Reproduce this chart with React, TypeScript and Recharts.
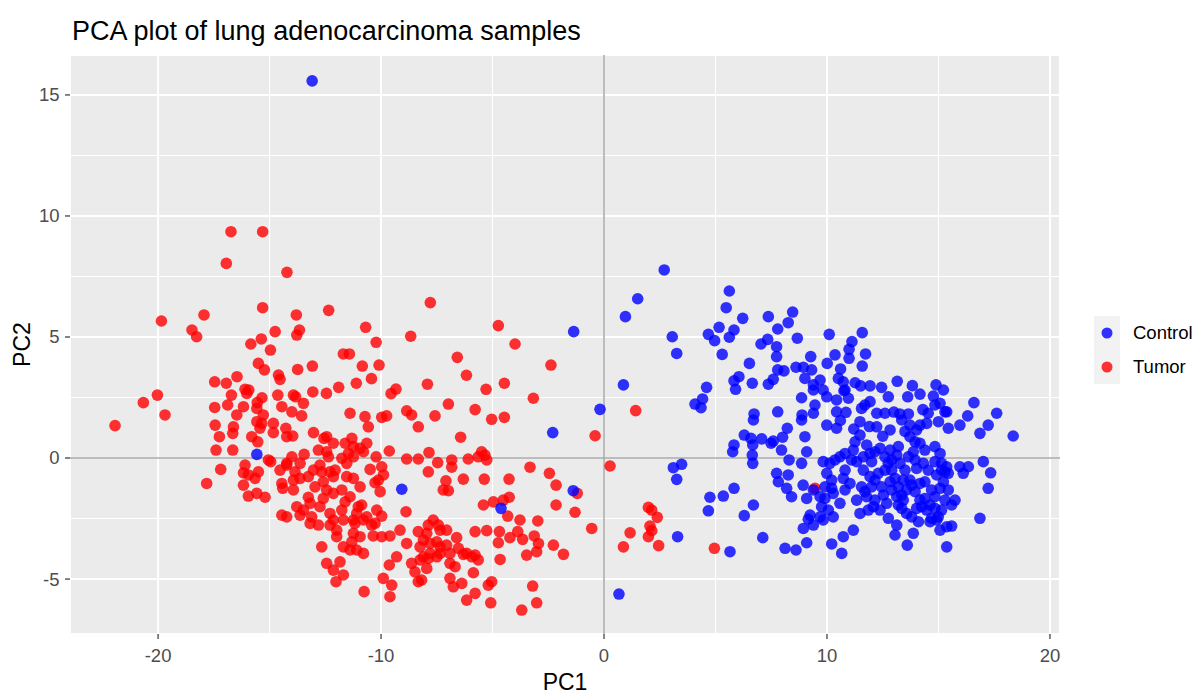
import React from "react";
import { ScatterChart, Scatter, XAxis, YAxis, CartesianGrid, ReferenceLine } from "recharts";

// PC1 / PC2 scores
const controlPoints: [number, number][] = [
  [-13.09, 15.58], [-15.57, 0.15], [-9.07, -1.29], [-2.3, 1.05], [-1.38, -1.35], [-4.62, -2.08], [-1.36, 5.22], [0.67, -5.62],
  [3.11, -0.4], [3.48, -0.26], [3.26, -0.88], [3.3, -3.25], [4.75, -1.62], [4.68, -2.18], [5.35, -1.57], [5.83, -1.25],
  [6.7, -1.94], [6.29, -2.38], [7.12, -3.29], [5.65, -3.87], [5.83, 0.54], [5.77, 0.26], [6.29, 0.95], [6.59, 0.81],
  [6.67, 0.54], [6.65, 0.12], [6.67, -0.22], [7.07, 0.79], [7.49, 0.61], [7.59, 0.7], [8.01, 0.86], [8.22, 1.23],
  [7.96, 0.33], [8.3, -0.08], [8.86, -0.22], [9.01, 0.88], [9.09, 0.26], [8.86, 1.57], [6.7, 1.57], [7.74, -0.63],
  [7.82, -0.98], [8.26, -0.7], [8.19, -1.25], [8.41, -1.6], [8.93, -1.12], [9.09, -1.67], [9.69, -1.6], [9.39, -1.32],
  [9.24, -2.36], [9.16, -2.53], [9.39, -2.77], [8.94, -2.91], [9.09, -3.5], [8.12, -3.73], [8.61, -3.8], [9.69, -2.43],
  [2.7, 7.77], [1.51, 6.58], [0.96, 5.84], [3.06, 5.01], [3.26, 4.32], [0.87, 3.02], [-0.18, 2.01], [4.6, 2.92],
  [4.08, 2.23], [4.42, 2.44], [4.35, 2.08], [5.62, 6.9], [5.48, 6.21], [6.22, 5.77], [5.16, 5.4], [4.68, 5.11],
  [4.96, 4.85], [5.83, 5.29], [5.62, 4.99], [5.3, 4.28], [7.37, 5.84], [7.79, 5.33], [8.26, 5.59], [8.46, 6.03],
  [8.67, 4.95], [7.34, 4.9], [7.04, 4.71], [7.74, 4.6], [7.74, 4.19], [6.52, 3.91], [7.79, 3.64], [8.07, 3.6],
  [7.59, 3.25], [7.37, 3.05], [6.65, 3.09], [5.83, 3.19], [6.05, 3.36], [5.9, 2.84], [8.61, 3.75], [8.94, 3.75],
  [9.27, 4.19], [9.31, 3.64], [9.01, 3.29], [9.39, 3.02], [8.86, 2.49], [9.39, 2.81], [9.46, 2.19], [6.73, 1.82],
  [7.79, 1.91], [8.88, 1.78], [9.39, 1.85], [10.1, 5.11], [11.58, 5.18], [11.12, 4.81], [10.99, 4.49], [10.99, 4.12],
  [11.73, 4.3], [11.58, 3.8], [10.36, 4.26], [10.01, 3.91], [10.61, 3.68], [9.69, 3.22], [10.51, 3.29], [10.73, 3.15],
  [10.76, 2.78], [11.26, 3.11], [11.51, 2.98], [11.93, 2.98], [12.45, 2.92], [13.15, 3.17], [12.75, 2.53], [13.83, 2.99],
  [13.62, 2.53], [14.17, 2.64], [14.89, 3.02], [15.22, 2.81], [14.77, 2.56], [15.07, 2.26], [15.29, 1.91], [16.59, 2.29],
  [17.61, 1.85], [16.31, 1.74], [9.83, 2.81], [9.99, 2.53], [10.43, 2.4], [10.96, 2.47], [10.81, 2.81], [11.7, 2.19],
  [11.93, 2.33], [11.55, 2.05], [10.43, 1.91], [10.85, 1.89], [12.23, 1.85], [12.6, 1.85], [13.27, 1.82], [13.65, 1.82],
  [14.54, 1.85], [14.84, 2.19], [15.37, 1.91], [9.99, 1.36], [10.43, 1.23], [11.48, 1.5], [12.23, 1.29], [12.83, 1.16],
  [13.35, 1.57], [13.72, 1.36], [14.02, 1.16], [14.17, 1.36], [14.47, 1.43], [15.44, 1.23], [15.96, 1.36], [16.86, 1.02],
  [17.23, 1.36], [18.35, 0.91], [11.26, 0.67], [11.48, 0.95], [11.78, 0.54], [11.18, 0.33], [10.81, 0.19], [12.38, 0.4],
  [12.83, 0.33], [13.2, 0.47], [13.72, 0.88], [13.95, 0.67], [14.17, 0.61], [14.39, 0.33], [14.84, 0.47], [15.07, 0.19],
  [9.83, -0.15], [10.13, -0.22], [10.36, -0.08], [10.81, -0.5], [11.33, -0.15], [11.63, 0.05], [12.0, -0.15], [12.6, 0.05],
  [12.75, -0.22], [13.13, 0.12], [12.9, -0.5], [13.5, -0.5], [13.95, -0.08], [14.02, -0.43], [14.84, -0.15], [15.14, -0.22],
  [15.29, -0.57], [15.44, -0.63], [15.96, -0.36], [16.34, -0.36], [16.11, -0.63], [17.01, -0.15], [17.34, -0.61], [17.23, -1.25],
  [9.91, -1.19], [10.21, -1.25], [10.73, -0.84], [10.81, -1.32], [10.58, -1.87], [11.33, -1.74], [11.7, -1.39], [12.0, -1.19],
  [12.15, -0.91], [12.45, -1.19], [12.53, -1.53], [12.83, -0.98], [13.2, -1.19], [13.35, -1.53], [13.57, -1.32], [13.72, -0.91],
  [13.95, -1.39], [14.17, -1.05], [14.39, -0.98], [14.69, -1.32], [14.84, -1.6], [15.07, -1.25], [15.22, -0.98], [15.44, -1.32],
  [15.74, -1.74], [15.59, -1.94], [15.29, -1.74], [9.83, -2.56], [10.28, -2.43], [10.06, -2.15], [11.48, -2.29], [11.85, -2.15],
  [12.08, -2.01], [12.75, -2.49], [13.13, -2.77], [13.35, -2.08], [13.57, -2.29], [13.8, -2.43], [14.02, -2.08], [14.1, -2.63],
  [14.62, -2.63], [14.92, -2.56], [15.07, -2.98], [15.37, -2.84], [15.59, -2.81], [16.86, -2.49], [11.18, -2.98], [10.73, -3.25],
  [13.87, -3.11], [13.05, -3.18], [10.21, -3.55], [10.66, -3.94], [13.6, -3.6], [15.37, -3.67], [9.91, -1.67], [10.28, -1.46],
  [9.76, -2.01], [12.68, -1.87], [13.2, -1.94], [11.63, -0.5], [12.3, -0.63], [11.93, -0.77], [13.42, -0.91], [13.05, -0.84],
  [14.39, -1.67], [14.62, -1.94], [14.84, -2.08],
  [11.1, -0.08], [11.03, -1.05], [11.55, -1.19], [11.78, -1.6], [12.15, -1.74], [12.38, -2.15], [12.9, -1.32], [13.13, -1.6],
  [13.42, -1.74], [13.8, -1.12], [14.17, -1.74], [14.25, -2.01], [14.47, -2.15], [14.69, -2.49], [14.99, -2.43], [15.14, -2.15],
  [9.99, -0.63], [10.21, -0.91], [10.58, 0.05], [11.93, 0.19], [12.15, 0.26], [12.6, -0.5], [12.9, -0.08], [13.27, -0.22],
  [13.65, 0.05], [13.87, 0.26], [14.32, -0.22], [14.54, -0.5], [14.92, -0.7], [15.14, -0.5], [15.37, -0.36],
  [10.6, 1.55], [11.2, 1.2], [12.5, 0.9], [13.0, 1.9], [14.3, 2.0], [11.9, 1.3], [13.5, 1.1], [15.0, 1.5],
];

const tumorPoints: [number, number][] = [
  [-16.73, 9.35], [-15.31, 9.35], [-16.94, 8.04], [-14.22, 7.67], [-15.31, 6.21], [-12.35, 6.1], [-17.94, 5.91], [-19.85, 5.66],
  [-13.8, 5.91], [-18.48, 5.29], [-18.27, 5.01], [-14.75, 5.22], [-13.66, 5.29], [-13.78, 5.08], [-15.37, 4.92], [-15.84, 4.71],
  [-14.96, 4.46], [-15.5, 3.91], [-15.23, 3.64], [-13.74, 3.66], [-13.08, 3.8], [-14.6, 3.43], [-14.53, 3.25], [-17.46, 3.15],
  [-16.94, 3.09], [-16.46, 3.36], [-16.1, 2.84], [-15.93, 2.81], [-16.02, 2.67], [-16.71, 2.6], [-20.03, 2.6], [-20.66, 2.29],
  [-15.34, 2.49], [-15.55, 2.29], [-14.63, 2.6], [-13.93, 2.6], [-13.83, 2.53], [-13.06, 2.73], [-12.45, 2.67], [-17.46, 2.09],
  [-16.88, 2.19], [-16.17, 2.12], [-15.57, 2.05], [-14.45, 2.12], [-13.48, 2.26], [-21.93, 1.34], [-19.69, 1.78],
  [-7.79, 6.42], [-10.69, 5.4], [-4.74, 5.47], [-8.67, 5.03], [-10.22, 4.78], [-3.99, 4.71], [-11.69, 4.3], [-11.42, 4.3],
  [-6.58, 4.16], [-10.84, 3.8], [-10.09, 3.84], [-2.38, 3.84], [-6.17, 3.42], [-10.43, 3.28], [-11.11, 3.09], [-11.9, 2.92],
  [-7.92, 3.05], [-4.47, 3.09], [-5.29, 2.84], [-9.33, 2.85], [-9.55, 2.66], [-3.17, 2.47], [-6.98, 2.23], [-5.78, 2.0],
  [-8.85, 1.95], [-11.39, 1.85],
  [-17.44, 1.36], [-16.62, 1.29], [-16.65, 1.02], [-17.25, 0.88], [-15.57, 1.5], [-15.43, 1.23], [-15.35, 1.43], [-15.8, 0.88],
  [-15.53, 0.67], [-14.83, 1.43], [-14.83, 1.05], [-14.27, 1.23], [-14.23, 0.88], [-13.96, 0.91], [-14.0, 1.91], [-13.56, 1.74],
  [-16.47, 1.78], [-15.28, 1.78], [-13.03, 1.05], [-12.56, 0.81], [-12.44, 0.88], [-12.14, 0.61], [-17.4, 0.33], [-16.65, 0.33],
  [-14.95, -0.15], [-15.05, -0.08], [-14.0, 0.05], [-14.23, -0.22], [-13.45, 0.15], [-12.81, 0.33], [-12.44, 0.26], [-12.36, 0.05],
  [-17.19, -0.47], [-17.82, -1.05], [-16.1, -0.29], [-16.17, -0.61], [-15.95, -0.7], [-15.5, -0.57], [-15.65, -0.84], [-16.17, -1.12],
  [-15.95, -1.57], [-15.57, -1.46], [-15.2, -1.62], [-14.53, -0.5], [-14.23, -0.29], [-13.86, -0.57], [-14.45, -1.05], [-14.41, -1.25],
  [-13.93, -0.91], [-13.63, -0.84], [-13.93, -1.32], [-13.26, -0.77], [-12.96, -1.19], [-12.74, -0.29], [-12.66, -0.57], [-12.29, -0.57],
  [-12.06, -0.5], [-12.59, -0.98], [-12.44, -1.32], [-12.59, -1.67], [-14.45, -2.36], [-14.23, -2.43], [-13.78, -2.01], [-13.63, -2.36],
  [-13.26, -1.62], [-13.18, -1.87], [-13.11, -2.43], [-13.18, -2.7], [-12.81, -2.77], [-12.29, -2.29], [-12.14, -2.56], [-12.29, -2.77],
  [-11.99, -2.98], [-11.99, -3.25], [-12.66, -3.67], [-12.44, -4.35], [-12.14, -4.63], [-12.02, -5.11],
  [-10.72, 1.71], [-10.57, 1.29], [-9.97, 1.68], [-9.75, 1.74], [-8.63, 1.78], [-8.33, 1.29], [-7.58, 1.74], [-5.04, 1.6],
  [-4.47, 1.68], [-6.43, 0.86], [-11.31, 0.81], [-11.61, 0.61], [-11.24, 0.47], [-10.64, 0.61], [-10.79, 0.26], [-11.46, 0.19],
  [-11.76, -0.01], [-11.24, 0.05], [-9.63, 0.29], [-10.22, 0.05], [-8.85, -0.04], [-8.33, -0.04], [-7.85, 0.23], [-7.46, -0.19],
  [-6.83, -0.08], [-6.83, -0.38], [-6.09, -0.04], [-5.64, 0.05], [-5.49, 0.26], [-5.34, 0.12], [-5.26, -0.08], [-10.49, -0.47],
  [-9.97, -0.36], [-9.89, -0.7], [-10.12, -0.91], [-10.27, -1.02], [-10.04, -1.39], [-11.54, -0.77], [-11.24, -0.84], [-11.76, -1.32],
  [-11.61, -1.81], [-11.76, -2.15], [-7.88, -0.57], [-7.09, -0.94], [-7.21, -1.32], [-6.98, -1.35], [-6.31, -0.87], [-5.37, -0.87],
  [-4.26, -0.87], [-3.32, -0.38], [-2.45, -0.63], [-2.15, -1.12], [-1.2, -1.46], [-2.15, -1.94], [-1.3, -2.24], [-5.41, -1.94],
  [-4.96, -1.81], [-4.52, -1.74], [-4.25, -1.62], [-4.32, -2.4], [-3.77, -2.56], [-2.97, -2.6], [-8.88, -2.22], [-9.97, -2.4],
  [-11.02, -2.01], [-10.87, -1.94], [-11.09, -2.29], [-11.24, -2.56], [-11.17, -2.7], [-10.79, -2.56], [-10.42, -2.77], [-10.27, -2.7],
  [-11.69, -2.56], [-11.24, -3.11], [-10.94, -3.25], [-11.31, -3.46], [-11.69, -3.67], [-11.09, -3.8], [-10.79, -3.94], [-11.39, -3.8],
  [-11.84, -4.29], [-11.69, -4.83], [-10.35, -3.22], [-9.97, -3.25], [-9.6, -3.22], [-9.15, -2.98], [-8.85, -3.53], [-8.33, -3.04],
  [-7.88, -2.77], [-7.66, -2.56], [-7.43, -2.77], [-7.35, -2.98], [-7.06, -2.98], [-6.61, -3.29], [-7.06, -3.6], [-7.95, -3.11],
  [-7.5, -3.46], [-5.78, -3.04], [-5.26, -3.0], [-4.69, -3.04], [-4.74, -3.5], [-4.22, -3.29], [-3.87, -3.04], [-3.65, -3.36],
  [-3.13, -3.22], [-2.94, -3.53], [-3.47, -4.01], [-3.02, -3.87], [-2.27, -3.6], [-1.82, -3.98], [-3.2, -5.29], [-3.02, -5.98],
  [-3.69, -6.28], [-4.66, -4.19], [-9.3, -4.08], [-9.63, -4.42], [-9.9, -4.97], [-9.52, -5.25], [-9.6, -5.73], [-10.76, -5.52],
  [-8.63, -4.35], [-8.48, -4.7], [-8.25, -3.67], [-8.1, -4.08], [-7.95, -4.56], [-8.18, -5.04], [-8.33, -5.11], [-7.8, -3.94],
  [-7.5, -4.08], [-7.35, -3.94], [-7.88, -4.15], [-6.91, -4.35], [-6.68, -4.49], [-6.91, -4.97], [-6.76, -5.32], [-6.38, -5.18],
  [-6.16, -3.94], [-5.93, -4.08], [-5.78, -4.01], [-5.64, -4.21], [-5.86, -4.74], [-6.16, -5.87], [-5.78, -5.59], [-5.04, -5.11],
  [-5.19, -5.25], [-5.08, -5.98], [-6.53, -3.73], [-6.31, -3.98],
  [-10.94, 0.4], [-11.54, -0.22], [-10.94, -1.19], [-11.39, -1.6], [-8.1, -3.39], [-7.8, -3.53], [-7.35, -3.67], [-8.25, -4.21],
  [-6.91, -3.94], [-10.19, -2.15], [-10.64, -2.43], [-13.63, -0.22], [-13.03, -0.5], [-12.14, -0.77], [-12.14, -1.46], [-12.74, -2.01],
  [-13.48, -2.15],
  [-0.4, 0.92], [0.27, -0.33], [-0.55, -2.91], [0.87, -3.67], [1.17, -3.09], [1.99, -2.04], [2.14, -2.15], [2.39, -2.45],
  [2.06, -2.81], [2.14, -3.0], [1.99, -3.25], [2.45, -3.62], [4.95, -3.73], [9.46, -1.25], [1.42, 1.96],
];

const xTicks = [-20, -10, 0, 10, 20];
const yTicks = [-5, 0, 5, 10, 15];
const xMinor = [-15, -5, 5, 15];
const yMinor = [-2.5, 2.5, 7.5, 12.5];

const FONT = '"Liberation Sans", Arial, sans-serif';

const toRows = (pts: [number, number][]) => pts.map(([x, y]) => ({ x, y }));

const dot = (color: string) => (props: any) => (
  <circle cx={props.cx} cy={props.cy} r={5.8} fill={color} fillOpacity={0.8} />
);

const XTick = ({ x, y, payload }: any) => (
  <text x={x} y={y} dy={21} textAnchor="middle" fill="#4D4D4D" fontSize={18.5} fontFamily={FONT}>
    {payload.value}
  </text>
);

const YTick = ({ x, y, payload }: any) => (
  <text x={x - 3.5} y={y} dy="0.35em" textAnchor="end" fill="#4D4D4D" fontSize={18.5} fontFamily={FONT}>
    {payload.value}
  </text>
);

export default function App() {
  return (
    <div style={{ position: "absolute", left: 0, top: 0, width: 1194, height: 693, background: "#fff", fontFamily: FONT }}>
      <div style={{ position: "absolute", left: 72, top: 18, fontSize: 27, lineHeight: "27px", whiteSpace: "nowrap", color: "#000" }}>
        PCA plot of lung adenocarcinoma samples
      </div>

      <ScatterChart width={1194} height={693} margin={{ top: 55, right: 134, bottom: 0, left: 0 }}>
        <CartesianGrid fill="#EBEBEB" stroke="#FFFFFF" strokeWidth={2} />
        {xMinor.map((v) => (
          <ReferenceLine key={`xm${v}`} x={v} stroke="#FFFFFF" strokeWidth={1.1} />
        ))}
        {yMinor.map((v) => (
          <ReferenceLine key={`ym${v}`} y={v} stroke="#FFFFFF" strokeWidth={1.1} />
        ))}
        <ReferenceLine x={0} stroke="#A6A6A6" strokeWidth={1.5} />
        <ReferenceLine y={0} stroke="#A6A6A6" strokeWidth={1.5} />
        <XAxis
          type="number"
          dataKey="x"
          domain={[-23.95, 20.45]}
          ticks={xTicks}
          interval={0}
          allowDataOverflow
          height={59}
          axisLine={false}
          tickSize={5}
          tickMargin={2}
          tickLine={{ stroke: "#444444", strokeWidth: 1.3 }}
          tick={<XTick />}
        />
        <YAxis
          type="number"
          dataKey="y"
          domain={[-7.27, 16.65]}
          ticks={yTicks}
          interval={0}
          allowDataOverflow
          width={70}
          axisLine={false}
          tickSize={5}
          tickMargin={2}
          tickLine={{ stroke: "#444444", strokeWidth: 1.3 }}
          tick={<YTick />}
        />
        <Scatter name="Tumor" data={toRows(tumorPoints)} shape={dot("#FF0000")} isAnimationActive={false} />
        <Scatter name="Control" data={toRows(controlPoints)} shape={dot("#0000FF")} isAnimationActive={false} />
      </ScatterChart>

      <div style={{ position: "absolute", left: 465, width: 200, top: 670.5, fontSize: 23, lineHeight: "23px", textAlign: "center", color: "#000" }}>
        PC1
      </div>
      <div
        style={{
          position: "absolute",
          left: 22 - 50,
          top: 344.5 - 11.5,
          width: 100,
          height: 23,
          fontSize: 23,
          lineHeight: "23px",
          textAlign: "center",
          color: "#000",
          transform: "rotate(-90deg)",
        }}
      >
        PC2
      </div>

      {[
        { label: "Control", color: "#0000FF", top: 316 },
        { label: "Tumor", color: "#FF0000", top: 350 },
      ].map((item) => (
        <div key={item.label} style={{ position: "absolute", left: 1094, top: item.top, height: 34, display: "flex", alignItems: "center" }}>
          <svg width={26} height={34}>
            <rect x={0} y={0} width={26} height={34} fill="#F2F2F2" />
            <circle cx={13} cy={17} r={5.5} fill={item.color} fillOpacity={0.8} />
          </svg>
          <span style={{ marginLeft: 13, fontSize: 18.5, color: "#000", whiteSpace: "nowrap" }}>{item.label}</span>
        </div>
      ))}
    </div>
  );
}
